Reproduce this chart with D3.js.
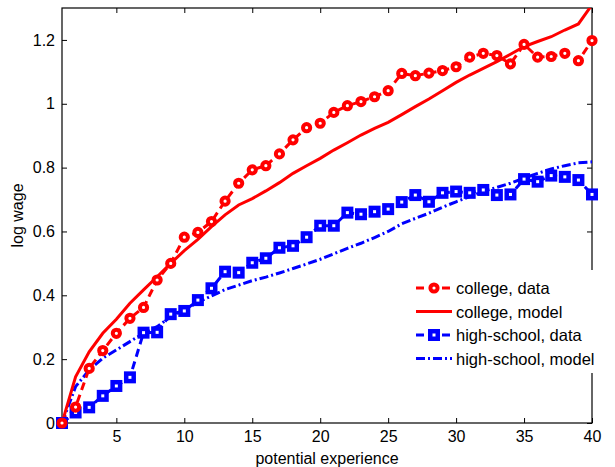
<!DOCTYPE html>
<html lang="en">
<head>
<meta charset="UTF-8">
<title>log wage vs potential experience</title>
<script src="https://cdn.jsdelivr.net/npm/d3@7"></script>
<style>
  body { margin: 0; background: #fff; font-family: "Liberation Sans", Arial, sans-serif; }
  svg text { font-family: "Liberation Sans", Arial, sans-serif; fill: #000; }
</style>
</head>
<body>
<svg id="chart" width="615" height="467"></svg>
<script>
// experience years 1..40
const experience = d3.range(1, 41);

const collegeData = [0, 0.05, 0.171, 0.227, 0.281, 0.328, 0.362, 0.448, 0.500, 0.582,
  0.597, 0.631, 0.695, 0.751, 0.793, 0.806, 0.843, 0.887, 0.925, 0.939,
  0.973, 0.994, 1.007, 1.022, 1.041, 1.095, 1.088, 1.096, 1.104, 1.116,
  1.146, 1.158, 1.151, 1.125, 1.186, 1.146, 1.148, 1.158, 1.135, 1.198];

const collegeModel = [0, 0.145, 0.223, 0.281, 0.325, 0.375, 0.417, 0.458, 0.500, 0.540,
  0.575, 0.615, 0.652, 0.683, 0.703, 0.727, 0.753, 0.782, 0.806, 0.829,
  0.855, 0.878, 0.902, 0.923, 0.942, 0.966, 0.991, 1.015, 1.041, 1.067,
  1.090, 1.111, 1.132, 1.155, 1.179, 1.195, 1.210, 1.231, 1.250, 1.310];

const hsData = [0, 0.033, 0.049, 0.085, 0.116, 0.143, 0.283, 0.284, 0.341, 0.351,
  0.385, 0.422, 0.474, 0.471, 0.502, 0.516, 0.549, 0.555, 0.582, 0.618,
  0.618, 0.659, 0.654, 0.662, 0.670, 0.692, 0.714, 0.693, 0.721, 0.725,
  0.721, 0.730, 0.714, 0.716, 0.764, 0.756, 0.775, 0.771, 0.761, 0.716];

const hsModel = [0, 0.114, 0.166, 0.203, 0.229, 0.255, 0.281, 0.302, 0.333, 0.354,
  0.378, 0.398, 0.418, 0.432, 0.446, 0.457, 0.470, 0.484, 0.498, 0.513,
  0.530, 0.547, 0.563, 0.581, 0.600, 0.624, 0.641, 0.657, 0.676, 0.693,
  0.709, 0.726, 0.738, 0.751, 0.767, 0.782, 0.796, 0.806, 0.815, 0.818];

const xTicks = [5, 10, 15, 20, 25, 30, 35, 40];
const yTicks = [0, 0.2, 0.4, 0.6, 0.8, 1, 1.2];
const legendLabels = ['college, data', 'college, model', 'high-school, data', 'high-school, model'];

const RED = '#ff0000';
const BLUE = '#0000ff';

const svg = d3.select('#chart');
const margin = { top: 8, right: 23, bottom: 44, left: 62 };
const width = 615 - margin.left - margin.right;
const height = 467 - margin.top - margin.bottom;

const g = svg.append('g').attr('transform', `translate(${margin.left},${margin.top})`);

const x = d3.scaleLinear().domain([1, 40]).range([0, width]);
const y = d3.scaleLinear().domain([0, 1.3]).range([height, 0]);

g.append('clipPath').attr('id', 'clip')
  .append('rect').attr('width', width).attr('height', height);

// axes with inward ticks on all four sides
const tickFmt = d => d3.format('~g')(d);
g.append('g').attr('transform', `translate(0,${height})`)
  .call(d3.axisBottom(x).tickValues(xTicks).tickSizeInner(-5).tickSizeOuter(0).tickPadding(8).tickFormat(tickFmt))
  .call(a => a.select('.domain').remove())
  .selectAll('text').style('font-size', '16px');
g.append('g')
  .call(d3.axisTop(x).tickValues(xTicks).tickSizeInner(-5).tickSizeOuter(0).tickFormat(''))
  .call(a => a.select('.domain').remove());
g.append('g')
  .call(d3.axisLeft(y).tickValues(yTicks).tickSizeInner(-5).tickSizeOuter(0).tickPadding(7).tickFormat(tickFmt))
  .call(a => a.select('.domain').remove())
  .selectAll('text').style('font-size', '16px');
g.append('g').attr('transform', `translate(${width},0)`)
  .call(d3.axisRight(y).tickValues(yTicks).tickSizeInner(-5).tickSizeOuter(0).tickFormat(''))
  .call(a => a.select('.domain').remove());

g.append('rect').attr('width', width).attr('height', height)
  .attr('fill', 'none').attr('stroke', '#000').attr('stroke-width', 1.2);

const line = vals => d3.line().x((d, i) => x(experience[i])).y(d => y(d))(vals);

const plot = g.append('g').attr('clip-path', 'url(#clip)');

plot.append('path').attr('d', line(hsModel))
  .attr('fill', 'none').attr('stroke', BLUE).attr('stroke-width', 3)
  .attr('stroke-dasharray', '9,3,2,3');
plot.append('path').attr('d', line(collegeModel))
  .attr('fill', 'none').attr('stroke', RED).attr('stroke-width', 3);
plot.append('path').attr('d', line(hsData))
  .attr('fill', 'none').attr('stroke', BLUE).attr('stroke-width', 3)
  .attr('stroke-dasharray', '8,5');
plot.append('path').attr('d', line(collegeData))
  .attr('fill', 'none').attr('stroke', RED).attr('stroke-width', 3)
  .attr('stroke-dasharray', '8,5');

g.append('g').selectAll('rect').data(hsData).join('rect')
  .attr('x', (d, i) => x(experience[i]) - 3.75)
  .attr('y', d => y(d) - 3.75)
  .attr('width', 7.5).attr('height', 7.5)
  .attr('fill', '#fff').attr('stroke', BLUE).attr('stroke-width', 4.5);

g.append('g').selectAll('circle').data(collegeData).join('circle')
  .attr('cx', (d, i) => x(experience[i]))
  .attr('cy', d => y(d))
  .attr('r', 3.6)
  .attr('fill', '#fff').attr('stroke', RED).attr('stroke-width', 4);

// axis labels
svg.append('text')
  .attr('x', margin.left + width / 2).attr('y', 464)
  .attr('text-anchor', 'middle').style('font-size', '16px')
  .text('potential experience');
svg.append('text')
  .attr('transform', `translate(23,${margin.top + height / 2}) rotate(-90)`)
  .attr('text-anchor', 'middle').style('font-size', '16px')
  .text('log wage');

// legend
const lg = svg.append('g').attr('transform', 'translate(410,270)');
lg.append('rect').attr('width', 205).attr('height', 103).attr('fill', '#fff');
const styles = [
  { color: RED, dash: '8,5', marker: 'circle' },
  { color: RED, dash: null, marker: null },
  { color: BLUE, dash: '8,5', marker: 'square' },
  { color: BLUE, dash: '9,3,2,3', marker: null }
];
legendLabels.forEach((lab, i) => {
  const yy = 18 + i * 23.5;
  const s = styles[i];
  lg.append('line').attr('x1', 6).attr('x2', 42).attr('y1', yy).attr('y2', yy)
    .attr('stroke', s.color).attr('stroke-width', 3)
    .attr('stroke-dasharray', s.dash);
  if (s.marker === 'circle') {
    lg.append('circle').attr('cx', 24).attr('cy', yy).attr('r', 3.6)
      .attr('fill', '#fff').attr('stroke', s.color).attr('stroke-width', 4);
  } else if (s.marker === 'square') {
    lg.append('rect').attr('x', 20.25).attr('y', yy - 3.75).attr('width', 7.5).attr('height', 7.5)
      .attr('fill', '#fff').attr('stroke', s.color).attr('stroke-width', 4.5);
  }
  lg.append('text').attr('x', 46).attr('y', yy + 6)
    .style('font-size', '16.5px').text(lab);
});
</script>
</body>
</html>
